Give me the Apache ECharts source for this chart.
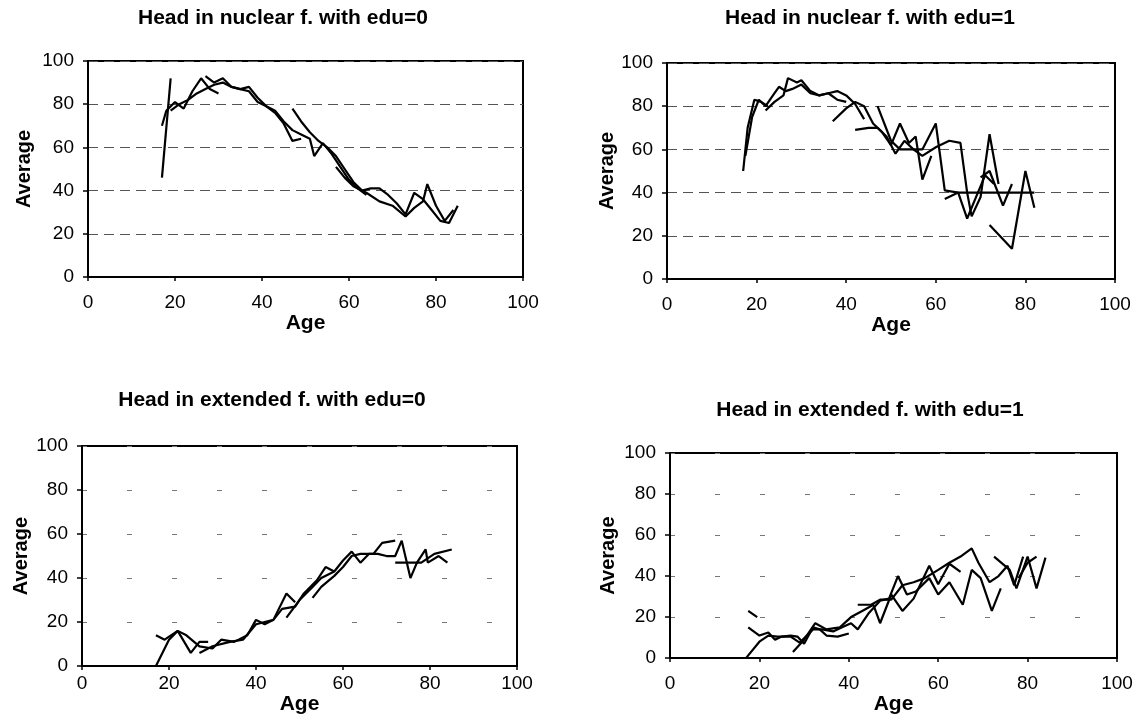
<!DOCTYPE html>
<html>
<head>
<meta charset="utf-8">
<script src="https://cdn.jsdelivr.net/npm/echarts@6/dist/echarts.min.js"></script>
<style>
  html, body { margin: 0; padding: 0; background: #fff; }
  #chart { width: 1142px; height: 716px; }
</style>
</head>
<body>
<div id="chart"></div>
<script>
// each panel holds several cohort lines, points are [age, average]
const nuclearEdu0 = [
  [[17, 46], [19, 92]],
  [[17, 70], [18, 77], [20, 81], [22, 78], [24, 86], [26, 92], [28, 87], [30, 85]],
  [[19, 77], [21, 80], [23, 82], [25, 85], [27, 87], [29, 89], [31, 90], [33, 88], [35, 87], [37, 86], [39, 81], [41, 79], [43, 76], [45, 71], [47, 63], [49, 64]],
  [[27, 93], [29, 90], [31, 92], [33, 88], [35, 87], [37, 88], [39, 83], [41, 79], [43, 77], [45, 72], [47, 68], [49, 66], [51, 64], [52, 56], [54, 62], [56, 57], [58, 51], [60, 45], [62, 41], [64, 38]],
  [[47, 78], [49, 72], [51, 67], [53, 63], [55, 60], [57, 56], [59, 50], [61, 44], [63, 40], [65, 41], [67, 41], [69, 38], [71, 34], [73, 29], [75, 39], [77, 36], [79, 31], [81, 26], [83, 25], [85, 33]],
  [[57, 51], [59, 46], [61, 42], [64, 39], [67, 35], [70, 33], [73, 28], [75, 32], [77, 35], [78, 43], [80, 33], [82, 26], [84, 31]]
]

const nuclearEdu1 = [
  [[17, 50], [18, 70], [19.5, 83], [21, 82], [22.5, 80]],
  [[17.5, 57], [19, 75], [20.5, 83], [22, 80], [24, 86], [25, 89], [26.5, 87], [28, 88], [30, 90], [32, 86], [34, 85], [36, 86], [38, 87], [40, 85], [42, 81], [44, 74]],
  [[22, 78], [24, 82], [26, 85], [27, 93], [29, 91], [30, 92], [32, 87], [34, 85], [36, 86], [38, 83], [40, 82]],
  [[37, 73], [40, 79], [42, 82], [44, 80], [46, 72], [48, 68], [50, 62], [52, 72], [54, 63], [55.5, 66], [57, 46], [59, 57]],
  [[42, 69], [45, 70], [47, 70], [49, 66], [51, 58], [53, 64], [55, 60], [57, 60], [60, 72], [62, 41], [65, 40], [67, 28], [69, 38], [71, 48], [73, 44]],
  [[47, 80], [50, 64], [52, 60], [55, 60], [57, 57], [60, 61], [63, 64], [65.5, 63], [67, 40], [68, 29], [70, 38], [72, 67], [74, 44]],
  [[62, 37], [65, 40], [70, 40], [75, 40], [82, 40]],
  [[70, 47], [72, 50], [75, 34], [77, 44]],
  [[72, 25], [77, 14], [80, 50], [82, 33]]
]

const extendedEdu0 = [
  [[17, 0], [19, 8], [20, 12], [22, 16], [25, 6], [27, 11], [29, 11]],
  [[17, 14], [19, 12], [22, 16], [24, 14], [27, 9], [30, 8], [32, 12], [35, 11], [38, 14], [40, 21], [42, 19], [44, 21], [47, 33], [49, 29]],
  [[27, 6], [30, 9], [34, 11], [37, 12], [40, 19], [44, 21], [46, 26], [49, 27], [51, 33], [54, 39], [56, 45], [58, 43]],
  [[47, 22], [50, 30], [53, 36], [55, 40], [58, 43], [60, 48], [62, 52], [64, 47], [66, 51], [68, 51], [70, 50], [72, 50], [73.5, 57], [75.5, 40], [77, 47], [79, 53], [79.5, 47], [82, 50], [84, 47]],
  [[53, 31], [55, 36], [58, 41], [60, 45], [62, 50], [64, 51], [67, 51], [69, 56], [72, 57]],
  [[72, 47], [78, 47], [81, 51], [85, 53]]
]

const extendedEdu1 = [
  [[17.5, 23], [19.5, 20]],
  [[17.5, 15], [20, 11], [22, 12.5], [23.5, 9], [25, 10.5], [27, 11], [28.5, 10.5], [30, 7], [32, 15], [33.5, 14], [35, 11], [37.5, 10.5], [40, 12]],
  [[17, 0], [20, 8], [22, 11], [24, 10.5], [27, 10.5], [29, 7.5], [32, 14], [34, 14], [36.5, 13], [38.5, 15], [40.5, 17], [42, 14], [44.5, 22], [47, 28], [49, 29], [51, 40], [53, 31], [55, 32.5], [58, 39], [60, 31], [62.5, 37], [65.5, 26], [67.5, 43], [69.5, 39], [72, 23], [74, 34]],
  [[27.5, 3], [30, 9], [32.5, 17], [35, 14], [38, 15], [40.5, 20], [43, 23], [45.5, 26], [47, 17], [49.5, 31], [52, 23], [54.5, 29], [58, 45], [60, 36], [62.5, 46], [65, 42]],
  [[42, 26], [45, 26], [47, 28.5], [49.5, 28.5], [52, 35.5], [54.5, 37], [57, 39], [60, 43], [62.5, 46.5], [65, 49.5], [67.5, 53.5], [69, 46.5], [71.5, 37], [73.5, 40], [75.5, 45], [77, 35.5], [79, 49.5]],
  [[72.5, 49.5], [76, 43], [77.5, 34], [80, 49.5], [82, 34], [84, 49]],
  [[78, 39], [80, 46.5], [82, 49.5]]
]

const titles = [
  'Head in nuclear f. with edu=0',
  'Head in nuclear f. with edu=1',
  'Head in extended f. with edu=0',
  'Head in extended f. with edu=1'
]
const panelData = [nuclearEdu0, nuclearEdu1, extendedEdu0, extendedEdu1]

// layout of the four plot boxes
const layout = [
  { left: 88, top: 61, width: 435, height: 216, titleX: 283, titleY: 18, labelMargin: 16, ageGap: 31, avgGap: 54, grid: [10, 6], gridColor: '#555' },
  { left: 667, top: 63, width: 448, height: 216, titleX: 870, titleY: 18, labelMargin: 16, ageGap: 31, avgGap: 49, grid: [10, 6], gridColor: '#555' },
  { left: 82, top: 446, width: 435, height: 221, titleX: 272, titleY: 400, labelMargin: 8, ageGap: 20, avgGap: 51, grid: [5, 40], gridColor: '#777' },
  { left: 670, top: 453, width: 447, height: 213, titleX: 870, titleY: 410, labelMargin: 16, ageGap: 28, avgGap: 52, grid: [5, 40], gridColor: '#777' }
]

const font = '"Liberation Sans", Arial, sans-serif'

const chart = echarts.init(document.getElementById('chart'), null, { renderer: 'canvas' })

const grids = []
const xAxes = []
const yAxes = []
const series = []
const graphics = []

layout.forEach((p, i) => {
  grids.push({
    left: p.left, top: p.top, width: p.width, height: p.height,
    show: true, borderColor: '#000', borderWidth: 2, backgroundColor: 'transparent'
  })
  xAxes.push({
    gridIndex: i,
    type: 'value',
    min: 0, max: 100, interval: 20,
    name: 'Age',
    nameLocation: 'middle',
    nameGap: p.ageGap,
    nameTextStyle: { fontFamily: font, fontSize: 21, fontWeight: 'bold', color: '#000' },
    axisLine: { lineStyle: { color: '#000', width: 2 } },
    axisTick: { show: true, length: 4, lineStyle: { color: '#000', width: 1.5 } },
    axisLabel: { fontFamily: font, fontSize: 19, color: '#000', margin: p.labelMargin },
    splitLine: { show: false }
  })
  yAxes.push({
    gridIndex: i,
    type: 'value',
    min: 0, max: 100, interval: 20,
    name: 'Average',
    nameLocation: 'middle',
    nameGap: p.avgGap,
    nameTextStyle: { fontFamily: font, fontSize: 20, fontWeight: 'bold', color: '#000' },
    axisLine: { show: true, lineStyle: { color: '#000', width: 2 } },
    axisTick: { show: true, length: 5, lineStyle: { color: '#000', width: 1.5 } },
    axisLabel: { fontFamily: font, fontSize: 19, color: '#000', margin: 14 },
    splitLine: { show: true, lineStyle: { color: p.gridColor, width: 1, type: p.grid } }
  })
  panelData[i].forEach((line) => {
    series.push({
      type: 'line',
      xAxisIndex: i,
      yAxisIndex: i,
      data: line,
      symbol: 'none',
      silent: true,
      lineStyle: { color: '#000', width: 2.2 }
    })
  })
  graphics.push({
    type: 'text',
    x: p.titleX,
    y: p.titleY,
    style: {
      text: titles[i],
      fill: '#000',
      font: 'bold 21px ' + font,
      textAlign: 'center',
      textVerticalAlign: 'middle'
    }
  })
})

chart.setOption({
  backgroundColor: '#fff',
  animation: false,
  grid: grids,
  xAxis: xAxes,
  yAxis: yAxes,
  series: series,
  graphic: graphics
})
</script>
</body>
</html>
